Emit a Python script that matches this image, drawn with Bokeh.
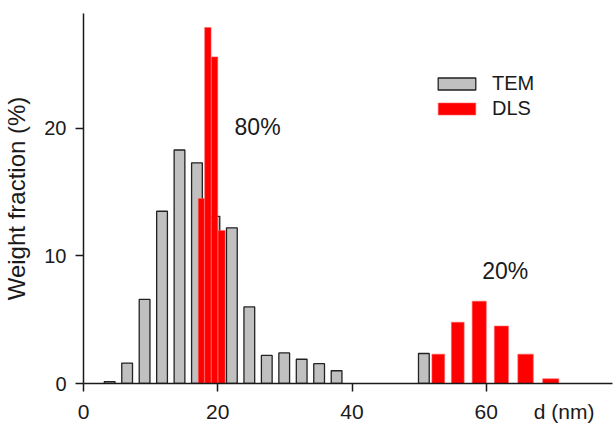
from bokeh.plotting import figure
from bokeh.models import Range1d, FixedTicker, Label, Legend, LegendItem, LinearAxis
from bokeh.embed import file_html
from bokeh.resources import INLINE

# TEM histogram (bin centres, weight fraction %)
tem_d = [3.9, 6.5, 9.1, 11.7, 14.3, 16.9, 19.5, 22.1, 24.7, 27.3, 29.9, 32.5, 35.1, 37.7, 50.7]
tem_w = [0.15, 1.6, 6.6, 13.5, 18.3, 17.3, 13.1, 12.2, 6.0, 2.2, 2.4, 1.9, 1.55, 1.0, 2.35]
tem_bar_width = 1.6

# DLS histogram (bin edges, weight fraction %)
dls_left = [17.1, 18.05, 19.05, 20.05, 51.9, 54.8, 57.9, 61.2, 64.7, 68.4]
dls_right = [18.0, 19.0, 20.0, 21.1, 53.8, 56.7, 60.0, 63.3, 67.0, 70.8]
dls_w = [14.5, 27.9, 25.6, 12.0, 2.3, 4.8, 6.45, 4.5, 2.3, 0.37]

x_ticks = [0, 20, 40, 60]
y_ticks = [0, 10, 20]
x_title = "d (nm)"
x_title_pos = 71.6

FONT = "Liberation Sans"
TXT = "#1a1a1a"

p = figure(width=616, height=425, output_backend="svg", toolbar_location=None,
           x_range=Range1d(0, 78.8), y_range=Range1d(0, 29.0),
           min_border_left=81, min_border_right=4, min_border_top=13, min_border_bottom=41)
p.outline_line_color = None
p.grid.visible = False
p.background_fill_color = "white"
p.border_fill_color = "white"

r_tem = p.vbar(x=tem_d, top=tem_w, width=tem_bar_width, bottom=0,
               fill_color="#c0c0c0", line_color="#222222", line_width=1.3)
r_dls = p.quad(left=dls_left, right=dls_right, top=dls_w, bottom=0,
               fill_color="#ff0000", line_color="#ff6060", line_width=0.6)

for ax in (p.xaxis[0], p.yaxis[0]):
    ax.axis_line_color = TXT
    ax.axis_line_width = 1.5
    ax.major_tick_line_color = TXT
    ax.major_tick_line_width = 1.5
    ax.major_tick_out = 8
    ax.major_tick_in = 0
    ax.minor_tick_line_color = None
    ax.major_label_text_font = FONT
    ax.major_label_text_font_size = "20px"
    ax.major_label_text_color = TXT

# main x axis: line and tick marks only
p.xaxis.ticker = FixedTicker(ticks=x_ticks)
p.xaxis.major_label_overrides = {t: "" for t in x_ticks}
p.xaxis.major_label_text_font_size = "1px"
p.xaxis.major_label_standoff = 0

# second x axis right under it: tick labels plus the axis title in the tick row
lab_axis = LinearAxis(ticker=FixedTicker(ticks=x_ticks + [x_title_pos]),
                      major_label_overrides={x_title_pos: x_title},
                      axis_line_color=None, major_tick_line_color=None,
                      minor_tick_line_color=None, major_tick_out=0, major_tick_in=0,
                      major_label_standoff=8, major_label_text_font=FONT,
                      major_label_text_font_size="21px", major_label_text_color=TXT)
p.add_layout(lab_axis, "below")

p.yaxis.ticker = FixedTicker(ticks=y_ticks)
p.yaxis.major_label_standoff = 9
p.yaxis.axis_label = "Weight fraction (%)"
p.yaxis.axis_label_text_font = FONT
p.yaxis.axis_label_text_font_size = "24px"
p.yaxis.axis_label_text_font_style = "normal"
p.yaxis.axis_label_text_color = TXT
p.yaxis.axis_label_standoff = 11

p.add_layout(Label(x=22.5, y=20.1, text="80%", text_font=FONT, text_font_size="23px",
                   text_color=TXT, text_baseline="middle"))
p.add_layout(Label(x=59.4, y=8.8, text="20%", text_font=FONT, text_font_size="23px",
                   text_color=TXT, text_baseline="middle"))

legend = Legend(items=[LegendItem(label="TEM", renderers=[r_tem]),
                       LegendItem(label="DLS", renderers=[r_dls])],
                location=(350, 263), orientation="vertical",
                glyph_width=47, glyph_height=15, label_standoff=12, spacing=2,
                padding=0, margin=0, border_line_color=None, background_fill_alpha=0,
                label_text_font=FONT, label_text_font_size="20px", label_text_color=TXT)
p.add_layout(legend)

open("out.html", "w").write(file_html(p, INLINE))
